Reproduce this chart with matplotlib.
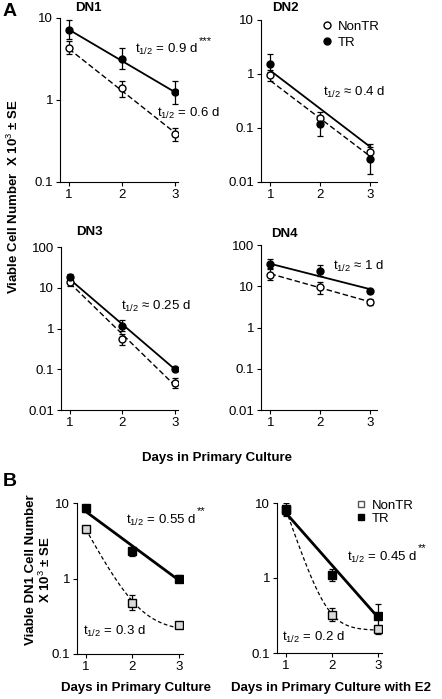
import numpy as np
import matplotlib
matplotlib.use("Agg")
import matplotlib.pyplot as plt
from matplotlib.lines import Line2D

plt.rcParams['font.family'] = ['Liberation Sans', 'DejaVu Sans']
plt.rcParams['font.size'] = 9.5
plt.rcParams['mathtext.fontset'] = 'custom'
plt.rcParams['mathtext.rm'] = 'Liberation Sans'
plt.rcParams['mathtext.it'] = 'Liberation Sans'
plt.rcParams['mathtext.bf'] = 'Liberation Sans:bold'

days = [1, 2, 3]

# panel A: mean, lower, upper (x10^3 cells)
dn1_tr = [7.2, 3.2, 1.25]
dn1_tr_lo = [5.5, 2.4, 0.9]
dn1_tr_hi = [9.5, 4.3, 1.7]
dn1_non = [4.3, 1.4, 0.38]
dn1_non_lo = [3.6, 1.1, 0.32]
dn1_non_hi = [5.2, 1.7, 0.45]

dn2_tr = [1.55, 0.12, 0.027]
dn2_tr_lo = [1.1, 0.07, 0.014]
dn2_tr_hi = [2.3, 0.17, 0.045]
dn2_non = [0.95, 0.15, 0.036]
dn2_non_lo = [0.75, 0.11, 0.025]
dn2_non_hi = [1.2, 0.2, 0.05]

dn3_tr = [18, 1.15, 0.1]
dn3_tr_lo = [15, 0.85, 0.09]
dn3_tr_hi = [22, 1.6, 0.11]
dn3_non = [14, 0.55, 0.045]
dn3_non_lo = [11, 0.4, 0.035]
dn3_non_hi = [17, 0.75, 0.06]

dn4_tr = [35, 24, 7.5]
dn4_tr_lo = [27, 18, 6.8]
dn4_tr_hi = [45, 32, 8.3]
dn4_non = [19, 9.5, 4.2]
dn4_non_lo = [14, 6.5, 3.5]
dn4_non_hi = [26, 13, 5.0]

# fitted exponential lines: value at day 1 and day 3
fit_a = {
    'DN1': ([7.2, 1.25], [4.2, 0.4]),
    'DN2': ([1.15, 0.045], [0.75, 0.03]),
    'DN3': ([16, 0.1], [13, 0.04]),
    'DN4': ([35, 8.5], [20, 4.2]),
}

# panel B
b1_tr = [8.5, 2.3, 1.0]
b1_tr_lo = [7.5, 2.0, 0.9]
b1_tr_hi = [9.5, 2.6, 1.1]
b1_non = [4.5, 0.48, 0.24]
b1_non_lo = [4.0, 0.38, 0.22]
b1_non_hi = [5.0, 0.6, 0.26]

b2_tr = [8.3, 1.1, 0.31]
b2_tr_lo = [6.8, 0.9, 0.22]
b2_tr_hi = [10, 1.3, 0.45]
b2_non = [8.0, 0.32, 0.21]
b2_non_lo = [7.0, 0.27, 0.18]
b2_non_hi = [9.0, 0.4, 0.23]

# TR fits (day1, day3); NonTR fit y = a*exp(-k(x-1)) + c
b1_tr_fit = [7.7, 0.95]
b2_tr_fit = [7.3, 0.3]
b1_non_fit = (4.3, 2.65, 0.2)
b2_non_fit = (7.8, 4.1, 0.2)

W, H = 442, 699
fig = plt.figure(figsize=(W / 100, H / 100), dpi=100)


def make_ax(left, top, right, bottom):
    ax = fig.add_axes([left / W, 1 - bottom / H, (right - left) / W, (bottom - top) / H])
    ax.set_yscale('log')
    ax.spines['top'].set_visible(False)
    ax.spines['right'].set_visible(False)
    ax.tick_params(direction='out', length=3, width=0.8, pad=2)
    ax.tick_params(which='minor', length=0)
    ax.set_xticks(days)
    ax.set_xticklabels(['1', '2', '3'])
    return ax


def plot_pts(ax, y, lo, hi, marker, face, ms=5):
    y = np.array(y)
    err = [y - np.array(lo), np.array(hi) - y]
    ax.errorbar(days, y, yerr=err, fmt=marker, mfc=face, mec='black', color='black',
                ms=ms, elinewidth=0.9, capsize=2, capthick=0.9, zorder=3)


def exp_line(ax, ends, style, lw):
    x = np.linspace(1, 3, 50)
    k = np.log(ends[1] / ends[0]) / 2
    ax.plot(x, ends[0] * np.exp(k * (x - 1)), style, color='black', lw=lw, zorder=2,
            dashes=(4, 2) if style == '--' else (None, None))


def half_life(ax, x, y, label, stars=''):
    t = ax.text(x, y, 't$_{1/2}$' + label, va='center', clip_on=False)
    if stars:
        ax.annotate(stars, xy=(1, 0.75), xycoords=t, xytext=(0.5, 0),
                    textcoords='offset points', fontsize=8, va='bottom', ha='left')


panels_a = [
    ('DN1', (60, 18, 178, 182), (0.83, 3.06), (0.1, 10), [0.1, 1, 10], (88, 8),
     dn1_tr, dn1_tr_lo, dn1_tr_hi, dn1_non, dn1_non_lo, dn1_non_hi),
    ('DN2', (261, 20, 377, 182), (0.81, 3.14), (0.01, 10), [0.01, 0.1, 1, 10], (285, 8),
     dn2_tr, dn2_tr_lo, dn2_tr_hi, dn2_non, dn2_non_lo, dn2_non_hi),
    ('DN3', (61, 247, 178, 410), (0.83, 3.06), (0.01, 100), [0.01, 0.1, 1, 10, 100], (89, 232),
     dn3_tr, dn3_tr_lo, dn3_tr_hi, dn3_non, dn3_non_lo, dn3_non_hi),
    ('DN4', (261, 245, 377, 410), (0.81, 3.14), (0.01, 100), [0.01, 0.1, 1, 10, 100], (284, 234),
     dn4_tr, dn4_tr_lo, dn4_tr_hi, dn4_non, dn4_non_lo, dn4_non_hi),
]

axes = {}
for name, box, xl, yl, yt, tpos, tr, trl, trh, non, nonl, nonh in panels_a:
    ax = make_ax(*box)
    ax.set_xlim(*xl)
    ax.set_ylim(*yl)
    ax.set_yticks(yt)
    ax.set_yticklabels(['%g' % v for v in yt])
    exp_line(ax, fit_a[name][0], '-', 1.3)
    exp_line(ax, fit_a[name][1], '--', 1.0)
    plot_pts(ax, non, nonl, nonh, 'o', 'white')
    plot_pts(ax, tr, trl, trh, 'o', 'black')
    fig.text(tpos[0] / W, 1 - tpos[1] / H, name, fontweight='bold', ha='center', va='center')
    axes[name] = ax

half_life(axes['DN1'], 2.25, 4.1, ' = 0.9 d', '***')
half_life(axes['DN1'], 2.66, 0.69, ' = 0.6 d')
half_life(axes['DN2'], 2.05, 0.45, ' ≈ 0.4 d')
half_life(axes['DN3'], 1.98, 3.4, ' ≈ 0.25 d')
half_life(axes['DN4'], 2.25, 31, ' ≈ 1 d')

h_a = [Line2D([], [], marker='o', ls='none', mfc='white', mec='black', ms=5),
       Line2D([], [], marker='o', ls='none', mfc='black', mec='black', ms=5)]
axes['DN2'].legend(h_a, ['NonTR', 'TR'], loc='upper left', bbox_to_anchor=(0.48, 1.03),
                   frameon=False, handletextpad=0.4, handlelength=0.8, labelspacing=0.3,
                   borderaxespad=0)

fig.text(13 / W, 1 - 197 / H, 'Viable Cell Number  X 10$^3$ ± SE', rotation=90,
         ha='center', va='center', fontweight='bold')
fig.text(217 / W, 1 - 458 / H, 'Days in Primary Culture', ha='center', va='center',
         fontweight='bold')
fig.text(3 / W, 1 - 12 / H, 'A', fontsize=14, fontweight='bold', va='center')
fig.text(3 / W, 1 - 481 / H, 'B', fontsize=14, fontweight='bold', va='center')

# panel B
panels_b = [
    ((77, 503, 183, 654), (0.81, 3.09), b1_tr, b1_tr_lo, b1_tr_hi,
     b1_non, b1_non_lo, b1_non_hi, b1_tr_fit, b1_non_fit),
    ((277, 503, 382, 653), (0.80, 3.09), b2_tr, b2_tr_lo, b2_tr_hi,
     b2_non, b2_non_lo, b2_non_hi, b2_tr_fit, b2_non_fit),
]
axb = []
for box, xl, tr, trl, trh, non, nonl, nonh, trfit, nonfit in panels_b:
    ax = make_ax(*box)
    ax.set_xlim(*xl)
    ax.set_ylim(0.1, 10)
    ax.set_yticks([0.1, 1, 10])
    ax.set_yticklabels(['0.1', '1', '10'])
    exp_line(ax, trfit, '-', 2.0)
    x = np.linspace(1, 3, 80)
    a, k, c = nonfit
    ax.plot(x, a * np.exp(-k * (x - 1)) + c, color='black', lw=0.9, dashes=(3, 2), zorder=2)
    plot_pts(ax, non, nonl, nonh, 's', '#d9d9d9', ms=5.5)
    plot_pts(ax, tr, trl, trh, 's', 'black', ms=5.5)
    axb.append(ax)

half_life(axb[0], 1.87, 5.9, ' = 0.55 d', '**')
half_life(axb[0], 0.93, 0.2, ' = 0.3 d')
half_life(axb[1], 2.33, 1.9, ' = 0.45 d', '**')
half_life(axb[1], 0.91, 0.16, ' = 0.2 d')

h_b = [Line2D([], [], marker='s', ls='none', mfc='white', mec='#555555', ms=5),
       Line2D([], [], marker='s', ls='none', mfc='black', mec='black', ms=5)]
axb[1].legend(h_b, ['NonTR', 'TR'], loc='upper left', bbox_to_anchor=(0.7, 1.06),
              frameon=False, handletextpad=0.4, handlelength=0.8, labelspacing=0.1,
              borderaxespad=0)

fig.text(39 / W, 1 - 570 / H, 'Viable DN1 Cell Number\nX 10$^3$ ± SE', rotation=90,
         ha='center', va='center', fontweight='bold', linespacing=1.1)
fig.text(136 / W, 1 - 688 / H, 'Days in Primary Culture', ha='center', va='center',
         fontweight='bold')
fig.text(331 / W, 1 - 688 / H, 'Days in Primary Culture with E2', ha='center', va='center',
         fontweight='bold')

fig.savefig('out.png', dpi=100)
